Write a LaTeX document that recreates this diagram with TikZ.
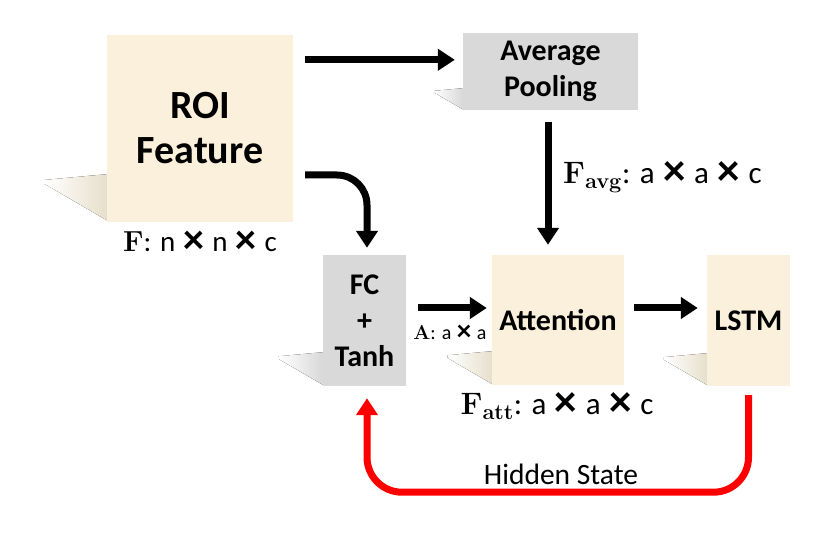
\documentclass[tikz,border=0pt]{standalone}
\usepackage{fix-cm}
\usepackage[no-math]{fontspec}
\setmainfont{Carlito}
\usetikzlibrary{arrows.meta,calc}

\definecolor{roitan}{RGB}{250,240,219}
\definecolor{poolgray}{RGB}{217,217,217}
\definecolor{shadowtan}{RGB}{230,223,203}
\definecolor{shadowgray}{RGB}{216,216,216}
\definecolor{hiddenred}{RGB}{255,0,0}

% heavy times sign
\newcommand{\by}{\hspace{0.05em}\raisebox{-0.12ex}{\scalebox{1.45}{\textbf{×}}}\hspace{0.05em}}

\begin{document}
\begin{tikzpicture}[x=1pt, y=-1pt,
       box/.style = {inner sep=0pt, align=center,
                     font=\bfseries\fontsize{30}{36}\selectfont},
    tanbox/.style = {box, fill=roitan},
   graybox/.style = {box, fill=poolgray},
      dims/.style = {inner sep=0pt, font=\fontsize{#1}{36}\selectfont},
      flow/.style = {line width=7pt, -{Triangle[length=17pt,width=21pt]}},
  feedback/.style = {flow, hiddenred, rounded corners=35pt}
                        ]
    % fix the size of the page
    \useasboundingbox (0,0) rectangle (830,537);

    % soft shadow on the lower left of a box
    \def\castshadow#1#2#3{%
      \fill[left color=white, right color=#2]
        ($(#1.south west)+(0,-#3)$) -- ++(-1.3*#3, 0.12*#3)
        -- ++(0, 0.08*#3) -- ($(#1.south west)+(0,-0.04*#3)$) -- cycle;}

    % the boxes
    \node[tanbox, minimum width=186pt, minimum height=187pt,
          font=\bfseries\fontsize{40}{45}\selectfont]
          (roi) at (200,128.5) {ROI\\Feature};
    \node[graybox, minimum width=175pt, minimum height=77pt]
          (avg) at (550.5,71.5) {Average\\Pooling};
    \node[graybox, minimum width=83pt, minimum height=131pt]
          (fc) at (364.5,320.5) {FC\\+\\Tanh};
    \node[tanbox, minimum width=132pt, minimum height=130pt]
          (att) at (558,320) {Attention};
    \node[tanbox, minimum width=83pt, minimum height=131pt]
          (lstm) at (748.5,320.5) {LSTM};

    \castshadow{roi}{shadowtan}{48}
    \castshadow{avg}{shadowgray}{22}
    \castshadow{fc}{shadowgray}{34}
    \castshadow{att}{shadowtan}{34}
    \castshadow{lstm}{shadowtan}{33}

    % sizes of the tensors
    \node[dims=29] (fdim) at (200,242)
          {$\mathbf{F}$: n \by{} n \by{} c};
    \node[dims=31, anchor=west] (favg) at (563,177)
          {$\mathbf{F}_{\mathbf{avg}}$: a \by{} a \by{} c};
    \node[dims=31] (fatt) at (557,406)
          {$\mathbf{F}_{\mathbf{att}}$: a \by{} a \by{} c};
    \node[dims=20] (adim) at (450,333)
          {$\mathbf{A}$: a \by{} a};
    \node[dims=29.5] (hidden) at (561,474) {Hidden State};

    % the flow
    \draw[flow] ($(roi.north east)+(12,25)$) -- ($(avg.north west)+(-8,27)$);
    \draw[flow, rounded corners=30pt]
          ($(roi.east)+(12,46.5)$) -| ($(fc.north)+(2.5,-7)$);
    \draw[flow] ($(avg.south)+(-2.5,12)$) -- ($(att.north)+(-10,-10)$);
    \draw[flow] ($(fc.east)+(12,-12.5)$) -- ($(att.west)+(-5,-12)$);
    \draw[flow] ($(att.east)+(10,-12)$) -- ($(lstm.west)+(-9,-12.5)$);
    \draw[feedback] ($(lstm.south)+(0,9)$) |- ($(fc.south)+(2.5,106)$)
          -- ($(fc.south)+(2.5,12)$);

\end{tikzpicture}
\end{document}
